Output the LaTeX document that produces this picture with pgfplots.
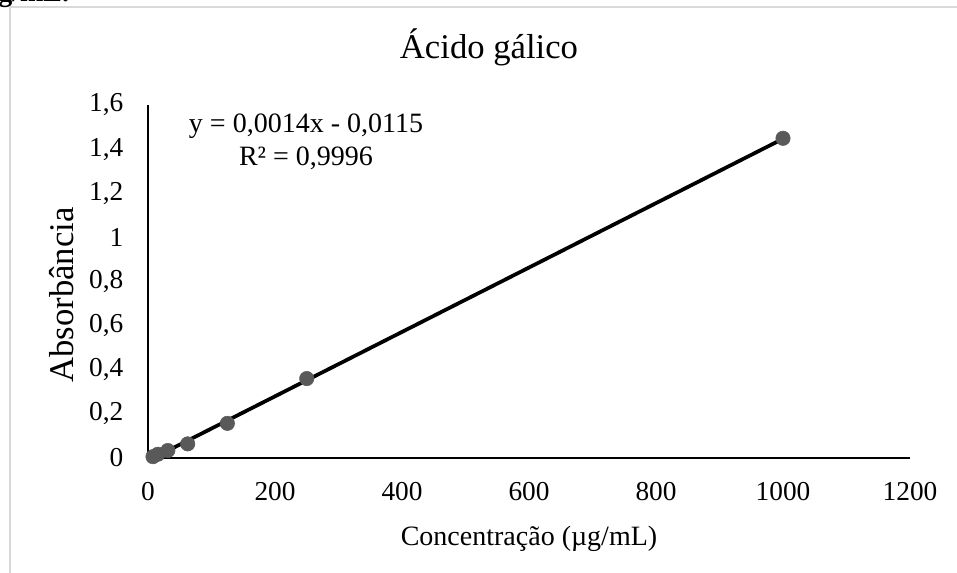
\documentclass[border=0pt]{standalone}
\usepackage{pgfplots}
\pgfplotsset{compat=1.18}
\usepackage{fontspec}
\setmainfont{Liberation Serif}
\begin{document}
\begin{tikzpicture}[x=0.75pt,y=0.75pt]
\useasboundingbox (0,0) rectangle (957,573);
\begin{scope}
\clip (0,0) rectangle (957,573);
\node[anchor=base west,inner sep=0pt,font=\bfseries\fontsize{21}{25}\selectfont] at (-2,571) {g/mL.};
\end{scope}
\draw[color={rgb,255:red,217;green,217;blue,217},line width=1.5pt] (10,0) -- (10,565.5) -- (957,565.5);
\begin{axis}[
  at={(111pt,86.25pt)}, anchor=south west,
  scale only axis, width=571.5pt, height=264.75pt,
  xmin=0, xmax=1200, ymin=0, ymax=1.6,
  axis x line=bottom, axis y line=left,
  axis line style={-, line width=1pt, black},
  xtick={0,200,...,1200}, ytick={0,0.2,...,1.6},
  major tick length=0pt,
  /pgf/number format/use comma, /pgf/number format/1000 sep={},
  /pgf/number format/assume math mode=true,
  tick label style={font=\fontsize{20.5}{24}\selectfont},
  xticklabel style={yshift=-15pt},
  yticklabel style={xshift=-15pt},
  clip=false,
]
\addplot[only marks, mark=*, mark size=5.4pt, mark options={fill={rgb,255:red,89;green,89;blue,89}, draw={rgb,255:red,89;green,89;blue,89}}]
 coordinates {(7.8125,0.006) (15.625,0.017) (31.25,0.034) (62.5,0.064) (125,0.157) (250,0.360) (1000,1.449)};
\addplot[line width=2.8pt, black] coordinates {(7.8125,-0.001) (1000,1.447)};
\end{axis}
\node[font=\fontsize{26}{30}\selectfont] at (489,526) {Ácido gálico};
\node[font=\fontsize{21}{25}\selectfont, align=center, inner sep=0pt] at (306,431) {y = 0,0014x - 0,0115\\[0pt] R² = 0,9996};
\node[rotate=90, font=\fontsize{26}{30}\selectfont] at (62,278) {Absorbância};
\node[font=\fontsize{21}{25}\selectfont] at (529,34) {Concentração (µg/mL)};
\end{tikzpicture}
\end{document}
